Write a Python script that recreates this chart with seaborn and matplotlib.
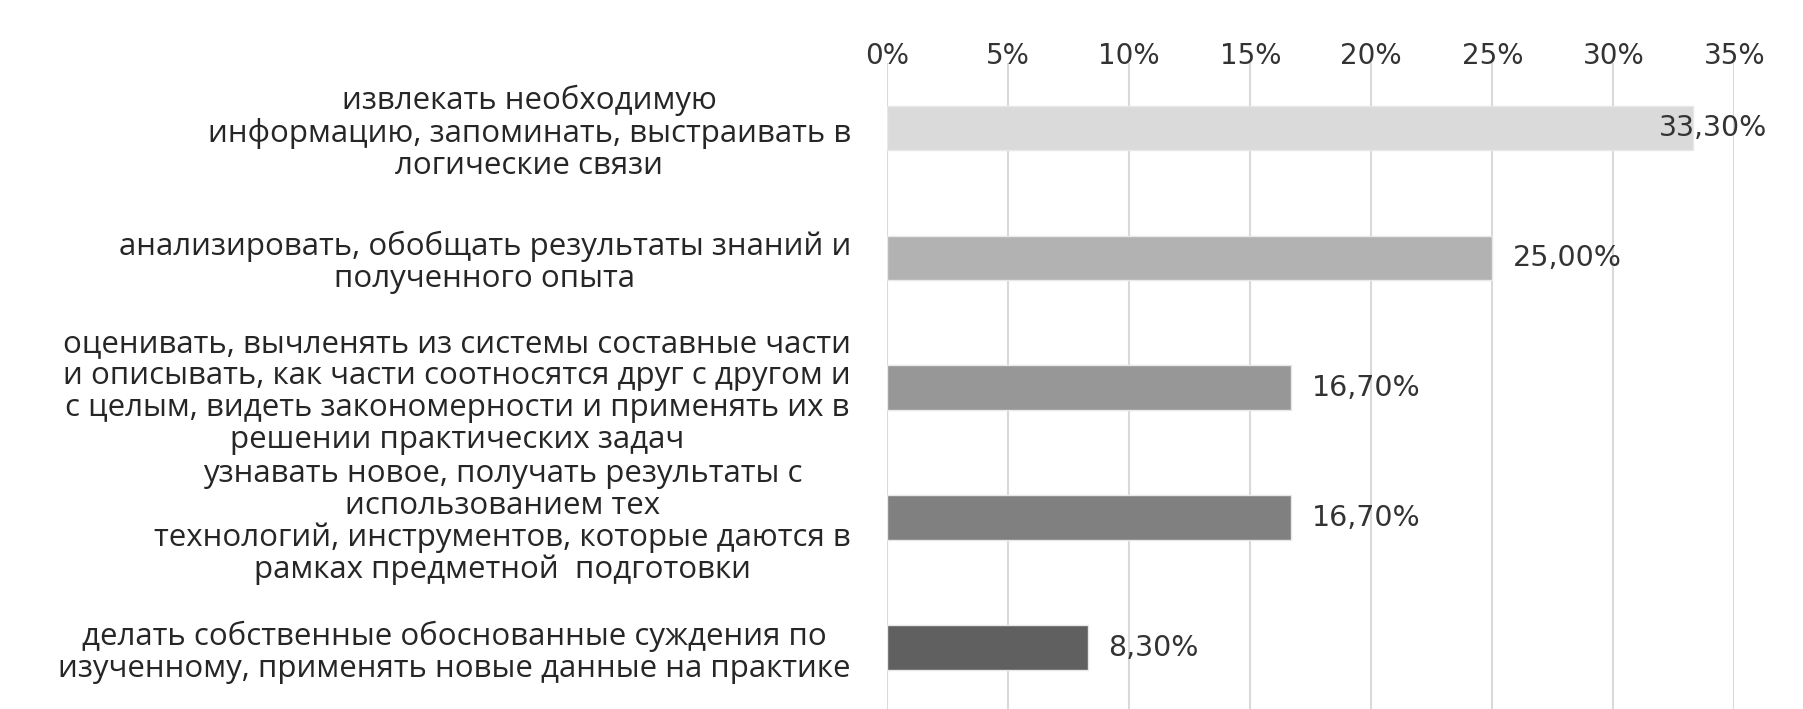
import pandas as pd
import numpy as np
import matplotlib
matplotlib.use("Agg")
import matplotlib.pyplot as plt
import seaborn as sns
from matplotlib.ticker import PercentFormatter

# данные диаграммы
categories = [
    "извлекать необходимую\nинформацию, запоминать, выстраивать в\nлогические связи",
    "анализировать, обобщать результаты знаний и\nполученного опыта",
    "оценивать, вычленять из системы составные части\nи описывать, как части соотносятся друг с другом и\nс целым, видеть закономерности и применять их в\nрешении практических задач",
    "узнавать новое, получать результаты с\nиспользованием тех\nтехнологий, инструментов, которые даются в\nрамках предметной  подготовки",
    "делать собственные обоснованные суждения по\nизученному, применять новые данные на практике",
]
values = [0.333, 0.25, 0.167, 0.167, 0.083]
value_labels = ["33,30%", "25,00%", "16,70%", "16,70%", "8,30%"]
bar_colors = ["#dadada", "#b2b2b2", "#979797", "#808080", "#606060"]
x_ticks = [0, 0.05, 0.10, 0.15, 0.20, 0.25, 0.30, 0.35]

df = pd.DataFrame({"category": categories, "value": values})

sns.set_theme(style="white")
plt.rcParams['font.family'] = ['DejaVu Sans']

fig = plt.figure(figsize=(18.03, 7.09), dpi=100)
ax = fig.add_axes([0.492, -0.005, 0.470, 0.916])

sns.barplot(data=df, y="category", x="value", hue="category",
            palette=bar_colors, legend=False, width=0.345,
            edgecolor="#e8e8e8", linewidth=1, ax=ax, zorder=3)

ax.set_xlim(0, 0.35)
ax.set_xticks(x_ticks)
ax.xaxis.set_major_formatter(PercentFormatter(1.0, decimals=0))
ax.xaxis.tick_top()
ax.tick_params(axis="x", length=0, pad=-5, labelsize=20, labelcolor="#333333")
ax.tick_params(axis="y", length=0, pad=26)
ax.grid(axis="x", color="#d9d9d9", linewidth=1.5, zorder=0)
ax.set_axisbelow(True)
for s in ax.spines.values():
    s.set_visible(False)
ax.set_xlabel("")
ax.set_ylabel("")

for lbl in ax.get_yticklabels():
    lbl.set_fontfamily("Open Sans")
    lbl.set_fontsize(22.5)
    lbl.set_color("#262626")
    lbl.set_multialignment("center")
    lbl.set_linespacing(1.08)

# подписи значений (последняя не выходит за край области)
for i, (v, t) in enumerate(zip(values, value_labels)):
    ax.text(min(v + 0.0085, 0.3187), i, t, va="center", ha="left",
            fontsize=20.5, color="#333333", zorder=4)

fig.savefig("out.png", dpi=100)
